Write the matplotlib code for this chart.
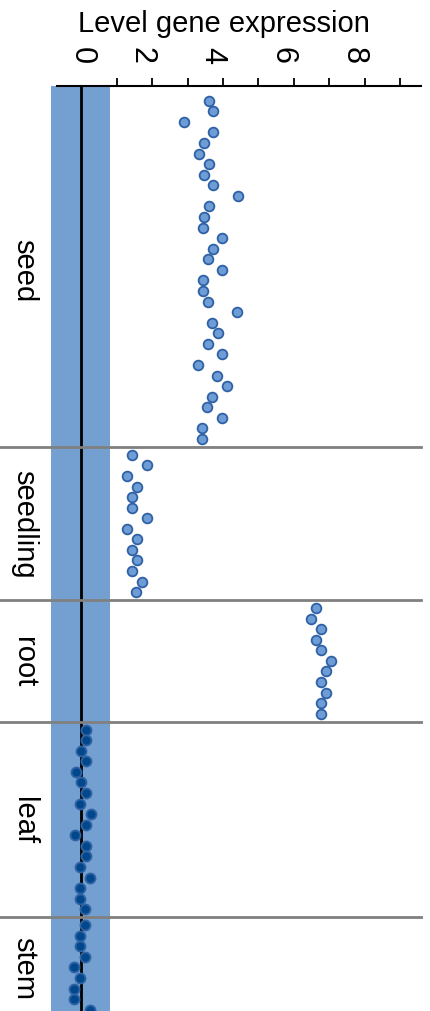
import numpy as np
import matplotlib
matplotlib.use("Agg")
from matplotlib import pyplot as plt
from matplotlib import transforms

plt.rcParams['font.family'] = ['Liberation Sans', 'DejaVu Sans']

# categories, top to bottom
categories = ["seed", "seedling", "root", "leaf", "stem"]

# expression values
seed = [3.61, 3.72, 2.90, 3.72, 3.46, 3.32, 3.60, 3.45, 3.72, 4.41, 3.59,
        3.45, 3.43, 3.98, 3.72, 3.58, 3.98, 3.44, 3.43, 3.57, 4.39, 3.70,
        3.85, 3.57, 3.97, 3.29, 3.84, 4.11, 3.69, 3.56, 3.97, 3.41, 3.41]
seedling = [1.43, 1.84, 1.29, 1.56, 1.43, 1.43, 1.84, 1.29, 1.56, 1.43,
            1.56, 1.43, 1.71, 1.55]
root = [6.63, 6.49, 6.77, 6.62, 6.76, 7.04, 6.90, 6.76, 6.90, 6.76, 6.76]
leaf = [0.14, 0.14, -0.02, 0.14, -0.16, -0.02, 0.14, -0.03, 0.27, 0.12,
        -0.17, 0.12, 0.12, -0.03, 0.25, -0.04, -0.04, 0.11]
stem = [0.11, -0.05, -0.05, 0.11, -0.20, -0.04, -0.20, -0.20, 0.25]

groups = [seed, seedling, root, leaf, stem]
tick_values = [0, 2, 4, 6, 8]

# noise band limits
band_lo, band_hi = -0.86, 0.81

fig = plt.figure(figsize=(4.31, 10.12), dpi=100)
W, H = 431.0, 1012.0
ax = fig.add_axes([51 / W, 0.0, 370 / W, 925 / H])

ax.set_xlim(band_lo, 9.59)
ax.set_ylim(86.87, -0.64)

ax.axvspan(band_lo, band_hi, color='#73a0d1', lw=0, zorder=0)
ax.axvline(0, color='black', lw=2, zorder=1)

# place points one slot apart inside each category
pad = 0.75
start = 0.0
bounds = [start]
for vals in groups:
    n = len(vals)
    y = start + pad + np.arange(n)
    x = np.array(vals)
    inside = np.abs(x) < band_hi
    ax.plot(x[~inside], y[~inside], 'o', ms=7.0, mew=1.3,
            mfc='#6e9cd5', mec='#2e61a6', zorder=3, clip_on=False)
    ax.plot(x[inside], y[inside], 'o', ms=7.2, mew=1.3,
            mfc='#00478c', mec='#2f63a4', zorder=3, clip_on=False)
    start = start + (n - 1) + 2 * pad
    bounds.append(start)

for b in bounds[1:-1]:
    ax.axhline(b, xmin=-51 / 370, xmax=1, color='#808080', lw=2,
               clip_on=False, zorder=2)

trans = transforms.blended_transform_factory(ax.transAxes, ax.transData)
for i, name in enumerate(categories):
    yc = (bounds[i] + bounds[i + 1]) / 2
    ax.text(-27 / 370, yc, name, rotation=-90, transform=trans,
            ha='center', va='center', fontsize=21)

for s in ['left', 'right', 'bottom']:
    ax.spines[s].set_visible(False)
ax.spines['top'].set_linewidth(1.5)
ax.spines['top'].set_bounds(-0.69, 9.59)
ax.xaxis.set_ticks_position('top')
ax.set_xticks(tick_values)
ax.set_xticklabels([str(t) for t in tick_values], rotation=-90, fontsize=22)
ax.set_xticks(np.arange(1, 10, 2), minor=True)
ax.tick_params(axis='x', which='both', length=6, width=1.3, color='black',
               pad=10)
ax.xaxis.get_major_ticks()[0].tick2line.set_visible(False)
# the labels in the original sit a little off their ticks
for t, lab in zip(tick_values, ax.get_xticklabels()):
    lab.set_va('center')
    dx = 0 if t == 0 else -11
    lab.set_transform(lab.get_transform() +
                      transforms.ScaledTranslation(dx / 100, 9 / 100, fig.dpi_scale_trans))
ax.set_yticks([])

fig.text(224 / W, 1 - 24 / H, "Level gene expression", ha='center',
         va='center', fontsize=21)

fig.savefig("out.png", dpi=100)
